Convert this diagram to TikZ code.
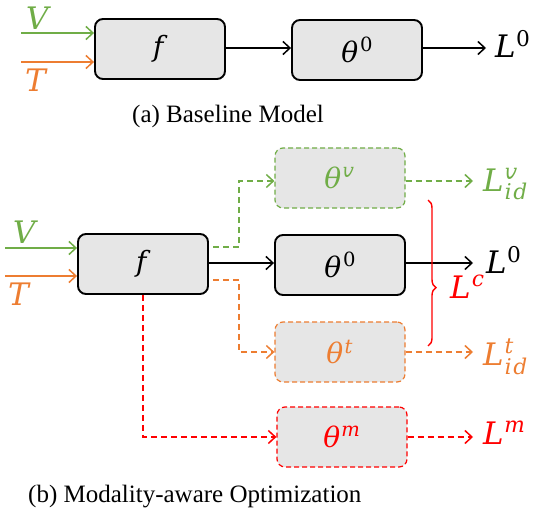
\documentclass[tikz,border=0pt]{standalone}
\usepackage{fontspec}
\usepackage{unicode-math}
\setmainfont{Liberation Serif}
\setmathfont{DejaVu Math TeX Gyre}
\usetikzlibrary{arrows.meta,decorations.pathreplacing,calc}
\definecolor{cg}{HTML}{70AD47}
\definecolor{co}{HTML}{ED7D31}
\definecolor{cr}{HTML}{FF0000}
\definecolor{boxfill}{HTML}{E6E6E6}
\tikzset{
 box/.style={draw=black, line width=1.9pt, fill=boxfill, rounded corners=8pt, minimum width=130pt, minimum height=60pt, inner sep=0pt, font=\fontsize{28}{32}\selectfont},
 dbox/.style={box, line width=1.2pt, dash pattern=on 5pt off 3pt},
 arr/.style={-{Straight Barb[length=7pt,width=13pt,line width=1.5pt]}, line width=1.8pt},
 darr/.style={arr, line width=1.2pt, dash pattern=on 6pt off 4pt},
 lab/.style={inner sep=0pt, font=\fontsize{31}{36}\selectfont},
 captext/.style={inner sep=0pt, font=\fontsize{25}{28}\selectfont},
}
\begin{document}
\begin{tikzpicture}[x=1pt,y=-1pt]
\useasboundingbox (0,0) rectangle (538,516);
% ---------- (a) ----------
\node[box] (f1) at (160,49) {$f$};
\node[box] (t1) at (357,50) {$\theta^0$};
\coordinate (v1) at (21,33);
\coordinate (tt1) at (21,62);
\draw[arr, cg] (v1) -- (v1 -| f1.west);
\draw[arr, co] (tt1) -- (tt1 -| f1.west);
\node[lab, text=cg] (vl1) at (40,18) {$V$};
\node[lab, text=co] (tl1) at (38,80) {$T$};
\coordinate (m1) at (0,48);
\draw[arr] (m1 -| f1.east) -- (m1 -| t1.west);
\coordinate (e1) at (486,48);
\draw[arr] (m1 -| t1.east) -- (e1);
\node[lab, anchor=west] (L01) at (492,44) {$L^0$};
\node[captext] (capa) at (228,116) {(a) Baseline Model};
% ---------- (b) ----------
\node[box] (f2) at (143,264) {$f$};
\node[box] (t0) at (340,265) {$\theta^0$};
\node[dbox, draw=cg, text=cg] (tv) at (340,178) {$\theta^v$};
\node[dbox, draw=co, text=co] (tt) at (340,352) {$\theta^t$};
\node[dbox, draw=cr, text=cr] (tm) at (342,437) {$\theta^m$};
\coordinate (v2) at (5,248);
\coordinate (tt2) at (5,276);
\draw[arr, cg] (v2) -- (v2 -| f2.west);
\draw[arr, co] (tt2) -- (tt2 -| f2.west);
\node[lab, text=cg] (vl2) at (27,232) {$V$};
\node[lab, text=co] (tl2) at (21,294) {$T$};
\coordinate (m2) at (0,263);
\draw[arr] (m2 -| f2.east) -- (m2 -| t0.west);
\coordinate (e0) at (473,263);
\draw[arr] (m2 -| t0.east) -- (e0);
\node[lab, anchor=west] (L02) at (483,260) {$L^0$};
% green branch
\coordinate (gs) at (213,247);
\coordinate (gk) at (239,181);
\draw[darr, cg] (gs) -| (gk) -- (gk -| tv.west);
\coordinate (ge) at (473,181);
\draw[darr, cg] (gk -| tv.east) -- (ge);
\node[lab, text=cg, anchor=west] (Lv) at (480,184) {$L^v_{id}$};
% orange branch
\coordinate (os) at (213,280);
\coordinate (ok) at (239,352);
\draw[darr, co] (os) -| (ok) -- (ok -| tt.west);
\coordinate (oe) at (473,352);
\draw[darr, co] (ok -| tt.east) -- (oe);
\node[lab, text=co, anchor=west] (Lt) at (480,357) {$L^t_{id}$};
% red branch
\coordinate (rk) at (143,437);
\draw[darr, cr] (f2.south) -- (rk) -- (rk -| tm.west);
\coordinate (re) at (473,437);
\draw[darr, cr] (rk -| tm.east) -- (re);
\node[lab, text=cr, anchor=west] (Lm) at (480,433) {$L^m$};
% brace
\coordinate (b1) at (428,200);
\coordinate (b2) at (428,346);
\draw[cr, line width=1.4pt, decorate, decoration={brace, amplitude=8pt, aspect=0.6}] (b1) -- (b2);
\node[lab, text=cr, anchor=west] (Lc) at (447,287) {$L^c$};
\node[captext, anchor=west] (capb) at (28,497) {(b) Modality-aware Optimization};
\end{tikzpicture}
\end{document}
